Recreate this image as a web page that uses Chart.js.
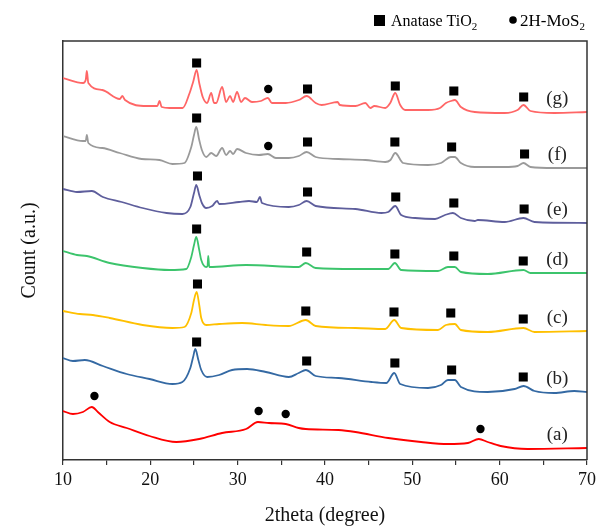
<!DOCTYPE html>
<html>
<head>
<meta charset="utf-8">
<script src="https://cdn.jsdelivr.net/npm/chart.js@4.4.1/dist/chart.umd.min.js"></script>
<style>
  html, body { margin: 0; padding: 0; background: #fff; }
  #box { width: 600px; height: 528px; }
</style>
</head>
<body>
<div id="box"><canvas id="xrd"></canvas></div>
<script>
// XRD patterns, [2theta, count] (arbitrary units, stacked)
const serieG = [[10,382],[12.3,377],[12.6,380],[12.73,389],[12.9,377],[14.5,370],[16.5,361],[16.8,364],[17.1,360],
  [19.6,354],[20.8,354],[21.05,359],[21.3,353],[22.2,352],[23.7,352],[24.5,367],[24.9,378],[25.3,390],[25.6,377],
  [26.0,363],[26.5,357],[26.97,367],[27.3,357],[27.54,357],[28.22,373],[28.68,358],[29.13,364],[29.48,358],[29.93,368],
  [30.39,358],[30.84,362],[31.64,358],[32.66,359],[33.46,362],[33.92,357],[35.5,357],[37.0,360],[37.9,364],
  [38.93,357],[39.61,355],[41.44,358],[41.7,355],[43.49,354],[44.62,357],[45.19,352],[45.65,354],[46.9,352],
  [47.47,357],[48.04,367],[48.61,355],[49.18,350],[51.8,350],[53.17,352],[53.85,357],[54.42,359],[54.87,360],
  [55.56,353],[57.15,348],[60.57,347],[62.05,350],[62.73,355],[63.53,349],[66.26,347],[70,348]];
const serieF = [[10,324],[12.28,319],[12.6,319],[12.73,325],[12.9,317],[14.5,312],[16.49,307],[19.0,301],[21.05,300],
  [22.53,296],[23.9,297],[24.69,313],[25.0,325],[25.26,333],[25.6,320],[25.9,310],[26.4,303],[26.97,307],[27.54,304],
  [28.22,312],[28.68,305],[29.13,309],[29.48,306],[29.93,311],[30.96,307],[32.44,305],[33.46,306],[34.37,302],
  [35.85,302],[37.0,304],[37.9,308],[38.93,303],[41.55,301],[44.62,300],[46.9,298],[47.5,300],[48.04,307],
  [48.95,297],[51.8,295],[53.28,297],[54.42,303],[54.87,303],[55.56,297],[57.15,293],[60.57,293],[62.05,294],
  [62.73,297],[63.53,293],[66.26,292],[70,292]];
const serieE = [[10,271],[11.6,268],[13.3,269],[14.56,263],[16.72,258],[19.11,252],[21.85,247],[23.67,246],[24.58,253],
  [25.0,267],[25.26,275],[25.6,265],[25.9,257],[26.4,252],[27.08,254],[27.65,259],[27.88,256],[30.16,258],[31.3,259],
  [32.21,258],[32.55,263],[32.78,257],[35.85,253],[37.0,255],[37.9,259],[38.93,254],[43.49,251],[46.45,247],
  [47.24,248],[48.04,254],[48.72,245],[50.32,242],[52.6,241],[53.74,245],[54.65,247],[55.56,242],[57.15,239],
  [57.5,240],[60.57,238],[62.73,242],[63.99,238],[70,237]];
const serieD = [[10,209],[11.6,205],[12.73,204],[15.35,197],[19.11,192],[22.19,190],[24.12,191],[24.69,203],[25.0,215],
  [25.26,223],[25.6,210],[25.83,200],[26.4,193],[26.55,194],[26.63,204],[26.75,193],[30.96,195],[36.99,193],
  [37.8,197],[38.93,192],[43.49,191],[47.24,191],[48.0,197],[48.72,190],[52.94,189],[54.08,193],[54.87,193],
  [55.56,188],[58.63,186],[62.73,190],[63.53,187],[70,187]];
const serieC = [[10,149],[11.94,146],[13.42,145],[15.35,142],[19.11,135],[22.53,132],[23.9,133],[24.69,147],[25.0,160],
  [25.3,168],[25.6,155],[25.83,142],[26.4,135],[27.88,136],[30.5,137],[33.23,135],[35.85,134],[37.8,140],[38.93,134],
  [43.49,132],[46.9,131],[47.93,140],[48.72,132],[52.94,130],[53.85,135],[54.87,136],[55.56,130],[58.63,128],
  [62.73,132],[63.99,128],[70,129]];
const serieB = [[10,102],[11.14,99],[12.5,100],[14.56,94],[17.29,86],[19.91,81],[22.53,76],[23.67,78],[24.58,92],
  [24.9,103],[25.15,111],[25.5,100],[25.83,90],[26.51,83],[27.88,85],[29.36,90],[31.07,91],[33.23,88],[35.85,83],
  [36.99,87],[37.8,90],[38.93,84],[41.55,82],[45.31,78],[47.02,77],[47.93,87],[48.61,76],[51.8,72],[53.28,75],
  [54.08,80],[54.87,80],[55.56,73],[58.63,68],[61.71,71],[62.73,74],[63.99,69],[66.26,67],[68.54,69],[70,68]];
const serieA = [[10,49],[11.14,46],[12.28,48],[13.3,53],[13.99,48],[15.35,38],[17.29,32],[19.91,24],[22.98,18],
  [25.6,21],[28.22,27],[30.96,31],[32.32,38],[33.58,37],[35.51,36],[36.99,32],[37.79,31],[41.55,30],[43.49,28],
  [47.24,22],[51.0,18],[54.08,16],[56.36,17],[57.61,21],[58.63,18],[60.11,14],[63.19,11],[70,12]];

// phase markers: anatase TiO2 (squares) and 2H-MoS2 (circles)
const anatase = [
  [25.3,397],[38.0,371],[48.05,374],[54.75,369],[62.75,363],
  [25.3,342],[38.0,318],[48.0,318],[54.5,313],[62.85,306],
  [25.4,284],[38.0,268],[48.1,263],[54.75,257],[62.8,251],
  [25.3,231],[37.9,208],[48.0,206],[54.75,204],[62.7,199],
  [25.4,176],[37.8,149],[47.9,148],[54.4,147],[62.7,141],
  [25.3,118],[37.9,99],[48.0,97],[54.5,90],[62.7,83]];
const mos2 = [[33.5,371],[33.5,314],[13.6,64],[32.4,49],[35.5,46],[57.8,31]];

const sampleNames = ['(g)', '(f)', '(e)', '(d)', '(c)', '(b)', '(a)'];
const sampleColors = ['#ff6666', '#9a9a9a', '#5e5e9c', '#3cc46c', '#ffc000', '#3469a3', '#ff0000'];
const series = [serieG, serieF, serieE, serieD, serieC, serieB, serieA];
const xTicks = [10, 20, 30, 40, 50, 60, 70];

const serif = '"Liberation Serif", "Times New Roman", serif';
const toPts = arr => arr.map(p => ({ x: p[0], y: p[1] }));

const datasets = series.map((s, i) => ({
  label: sampleNames[i],
  data: toPts(s),
  borderColor: sampleColors[i],
  borderWidth: 1.8,
  pointRadius: 0,
  cubicInterpolationMode: 'monotone'
}));
datasets.push({
  type: 'scatter', label: 'Anatase TiO2', data: toPts(anatase),
  pointStyle: 'rect', pointRadius: 6.4, backgroundColor: '#000', borderWidth: 0
});
datasets.push({
  type: 'scatter', label: '2H-MoS2', data: toPts(mos2),
  pointStyle: 'circle', pointRadius: 4.2, backgroundColor: '#000', borderWidth: 0
});

// frame, sample labels and the legend with subscripts
const extras = {
  id: 'extras',
  afterDraw(chart) {
    const { ctx, chartArea: a, scales: { x, y } } = chart;
    ctx.save();
    ctx.strokeStyle = '#333';
    ctx.lineWidth = 1.5;
    ctx.beginPath();
    ctx.moveTo(a.left, a.top);
    ctx.lineTo(a.right, a.top);
    ctx.lineTo(a.right, a.bottom);
    ctx.stroke();

    ctx.fillStyle = '#222';
    ctx.font = '19px ' + serif;
    ctx.textAlign = 'center';
    ctx.textBaseline = 'middle';
    series.forEach((s, i) => {
      const last = s[s.length - 1][1];
      ctx.fillText(sampleNames[i], x.getPixelForValue(66.6), y.getPixelForValue(last + 13));
    });

    // legend
    ctx.textAlign = 'left';
    ctx.textBaseline = 'alphabetic';
    const base = 26;
    ctx.fillStyle = '#000';
    ctx.fillRect(374, base - 11, 11, 11);
    ctx.font = '16px ' + serif;
    ctx.fillText('Anatase TiO', 391, base);
    let lx = 391 + ctx.measureText('Anatase TiO').width;
    ctx.font = '11px ' + serif;
    ctx.fillText('2', lx, base + 4);
    ctx.beginPath();
    ctx.arc(513, base - 6, 3.8, 0, Math.PI * 2);
    ctx.fill();
    ctx.font = '17px ' + serif;
    ctx.fillText('2H-MoS', 520, base);
    lx = 520 + ctx.measureText('2H-MoS').width;
    ctx.font = '11px ' + serif;
    ctx.fillText('2', lx, base + 4);
    ctx.restore();
  }
};

new Chart(document.getElementById('xrd'), {
  type: 'line',
  data: { datasets },
  options: {
    responsive: true,
    maintainAspectRatio: false,
    animation: false,
    layout: { padding: { top: 41, right: 10, left: 0, bottom: 0 } },
    plugins: { legend: { display: false }, tooltip: { enabled: false } },
    scales: {
      x: {
        type: 'linear',
        min: 10,
        max: 70,
        afterBuildTicks: s => { s.ticks = [];
          for (let v = 10; v <= 70; v += 5) s.ticks.push({ value: v }); },
        afterFit: s => { s.height = 68; },
        ticks: {
          color: '#111',
          font: { family: serif, size: 18 },
          padding: 4,
          maxRotation: 0,
          callback: v => xTicks.includes(v) ? String(v) : ''
        },
        grid: { drawOnChartArea: false, drawTicks: true, tickLength: 5, color: '#333', lineWidth: 1.2 },
        border: { display: true, color: '#333', width: 1.5 },
        title: {
          display: true,
          text: '2theta (degree)',
          color: '#111',
          font: { family: serif, size: 20 },
          padding: { top: 0, bottom: 0 }
        }
      },
      y: {
        min: 0,
        max: 419,
        afterFit: s => { s.width = 63; },
        ticks: { display: false },
        grid: { display: false },
        border: { display: true, color: '#333', width: 1.5 },
        title: {
          display: true,
          text: 'Count (a.u.)',
          color: '#111',
          font: { family: serif, size: 20 },
          padding: { top: 18, bottom: 0 }
        }
      }
    }
  },
  plugins: [extras]
});
</script>
</body>
</html>
